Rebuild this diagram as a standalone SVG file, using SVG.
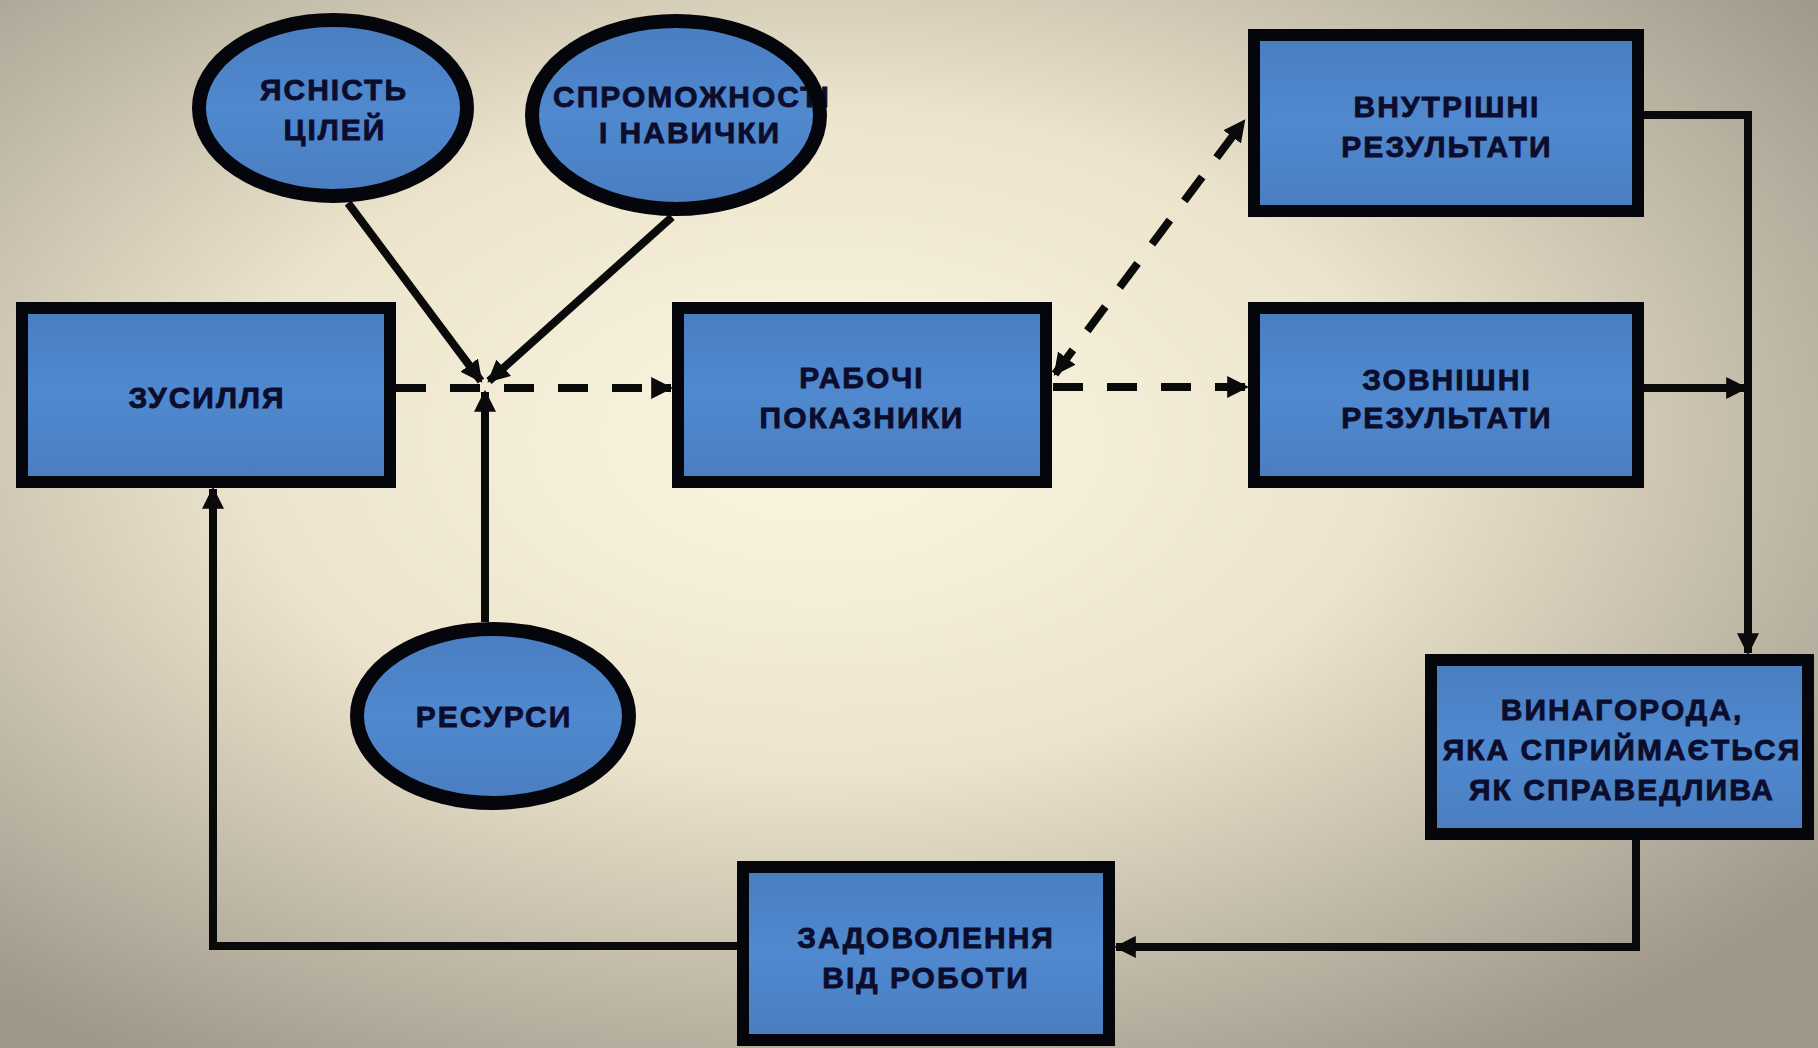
<svg xmlns="http://www.w3.org/2000/svg" width="1818" height="1048" viewBox="0 0 1818 1048">
<defs>
<radialGradient id="bg" cx="45%" cy="42%" r="70%">
<stop offset="0" stop-color="#fcf6e2"/>
<stop offset="0.45" stop-color="#ece4cc"/>
<stop offset="1" stop-color="#9e978a"/>
</radialGradient>
<linearGradient id="fill" x1="0" y1="0" x2="0" y2="1">
<stop offset="0" stop-color="#4a7dc0"/>
<stop offset="0.5" stop-color="#5089cf"/>
<stop offset="1" stop-color="#4a7dc0"/>
</linearGradient>
<marker id="ah" viewBox="0 0 10 10" refX="9" refY="5" markerUnits="userSpaceOnUse" markerWidth="22" markerHeight="22" orient="auto-start-reverse">
<path d="M0,0 L10,5 L0,10 Z" fill="#0a0a0a"/>
</marker>
<style>
.box{fill:url(#fill);}
.edge{fill:none;stroke:#05050c;stroke-width:12;}
.eedge{fill:none;stroke:#05050c;stroke-width:14;}
.t{font-family:"Liberation Sans",Arial,sans-serif;font-weight:bold;font-size:30px;letter-spacing:2px;fill:#0c0c2c;stroke:#0c0c2c;stroke-width:0.8;text-anchor:middle;}
.s{fill:none;stroke:#0a0a0a;stroke-width:8;}
.d{fill:none;stroke:#0a0a0a;stroke-width:8;stroke-dasharray:30 24;}
</style>
</defs>
<rect x="0" y="0" width="1818" height="1048" fill="url(#bg)"/>

<g id="connectors">
<line class="s" x1="348" y1="203" x2="481" y2="381" marker-end="url(#ah)"/>
<line class="s" x1="672" y1="217" x2="489" y2="381" marker-end="url(#ah)"/>
<line class="s" x1="485" y1="622" x2="485" y2="392" marker-end="url(#ah)"/>
<line class="d" x1="396" y1="388" x2="671" y2="388" marker-end="url(#ah)"/>
<line class="d" x1="1053" y1="387" x2="1247" y2="387" marker-end="url(#ah)"/>
<line class="d" x1="1055" y1="374" x2="1244" y2="121" marker-start="url(#ah)" marker-end="url(#ah)"/>
<polyline class="s" points="1644,115 1748,115 1748,653" marker-end="url(#ah)"/>
<line class="s" x1="1644" y1="388" x2="1746" y2="388" marker-end="url(#ah)"/>
<polyline class="s" points="1636,840 1636,947 1116,947" marker-end="url(#ah)"/>
<polyline class="s" points="737,946 213,946 213,489" marker-end="url(#ah)"/>
</g>

<g id="node-yasnist">
<ellipse class="box" cx="333" cy="108" rx="134" ry="88"/>
<text class="t" x="334" y="100">ЯСНІСТЬ</text>
<text class="t" x="335" y="140">ЦІЛЕЙ</text>
<ellipse class="eedge" cx="333" cy="108" rx="134" ry="88"/>
</g>

<g id="node-spromozhnosti">
<ellipse class="box" cx="676" cy="115" rx="144" ry="94"/>
<text class="t" x="692" y="107">СПРОМОЖНОСТІ</text>
<text class="t" x="690" y="143">І НАВИЧКИ</text>
<ellipse class="eedge" cx="676" cy="115" rx="144" ry="94"/>
</g>

<g id="node-resursy">
<ellipse class="box" cx="493" cy="716" rx="136" ry="87"/>
<text class="t" x="494" y="727">РЕСУРСИ</text>
<ellipse class="eedge" cx="493" cy="716" rx="136" ry="87"/>
</g>

<g id="node-zusyllia">
<rect class="box" x="22" y="308" width="368" height="174"/>
<text class="t" x="207" y="408">ЗУСИЛЛЯ</text>
<rect class="edge" x="22" y="308" width="368" height="174"/>
</g>

<g id="node-robochi">
<rect class="box" x="678" y="308" width="368" height="174"/>
<text class="t" x="862" y="388">РАБОЧІ</text>
<text class="t" x="862" y="428">ПОКАЗНИКИ</text>
<rect class="edge" x="678" y="308" width="368" height="174"/>
</g>

<g id="node-vnutrishni">
<rect class="box" x="1254" y="35" width="384" height="176"/>
<text class="t" x="1447" y="117">ВНУТРІШНІ</text>
<text class="t" x="1447" y="157">РЕЗУЛЬТАТИ</text>
<rect class="edge" x="1254" y="35" width="384" height="176"/>
</g>

<g id="node-zovnishni">
<rect class="box" x="1254" y="308" width="384" height="174"/>
<text class="t" x="1447" y="390">ЗОВНІШНІ</text>
<text class="t" x="1447" y="428">РЕЗУЛЬТАТИ</text>
<rect class="edge" x="1254" y="308" width="384" height="174"/>
</g>

<g id="node-vynahoroda">
<rect class="box" x="1431" y="660" width="377" height="174"/>
<text class="t" x="1622" y="720">ВИНАГОРОДА,</text>
<text class="t" x="1622" y="760">ЯКА СПРИЙМАЄТЬСЯ</text>
<text class="t" x="1622" y="800">ЯК СПРАВЕДЛИВА</text>
<rect class="edge" x="1431" y="660" width="377" height="174"/>
</g>

<g id="node-zadovolennia">
<rect class="box" x="743" y="867" width="366" height="173"/>
<text class="t" x="926" y="948">ЗАДОВОЛЕННЯ</text>
<text class="t" x="926" y="988">ВІД РОБОТИ</text>
<rect class="edge" x="743" y="867" width="366" height="173"/>
</g>
</svg>
